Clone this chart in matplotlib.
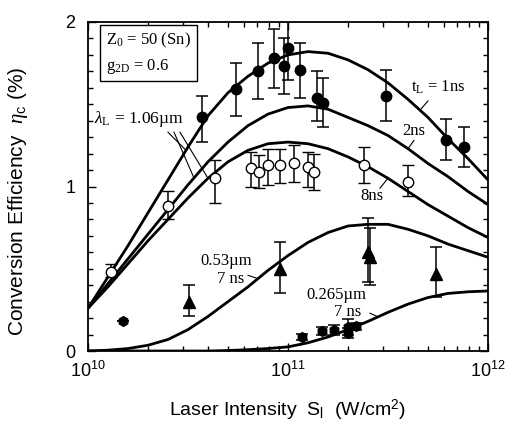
import numpy as np
import matplotlib
matplotlib.use("Agg")
import matplotlib.pyplot as plt
from matplotlib.ticker import MultipleLocator, LogLocator, FixedLocator, NullFormatter

plt.rcParams["font.family"] = ["Liberation Sans", "DejaVu Sans"]
plt.rcParams["mathtext.fontset"] = "custom"
plt.rcParams["mathtext.rm"] = "Liberation Serif"
plt.rcParams["mathtext.it"] = "Liberation Serif:italic"
plt.rcParams["mathtext.sf"] = "Liberation Sans"

# ---- model curves: exponent of laser intensity (W/cm^2) vs. efficiency (%) ----
log_s = [10.0, 10.1, 10.2, 10.3, 10.4, 10.5, 10.6, 10.7, 10.8, 10.9, 11.0,
         11.1, 11.2, 11.3, 11.4, 11.5, 11.6, 11.7, 11.8, 11.9, 12.0]
eta_1ns = [0.26, 0.45, 0.64, 0.84, 1.04, 1.24, 1.43, 1.57, 1.67, 1.75, 1.80,
           1.82, 1.81, 1.77, 1.71, 1.63, 1.53, 1.42, 1.29, 1.17, 1.04]
eta_2ns = [0.26, 0.41, 0.56, 0.71, 0.86, 1.01, 1.15, 1.27, 1.37, 1.44, 1.48,
           1.49, 1.47, 1.42, 1.37, 1.31, 1.23, 1.14, 1.06, 0.97, 0.89]
eta_8ns = [0.26, 0.39, 0.53, 0.67, 0.80, 0.93, 1.05, 1.15, 1.22, 1.26, 1.27,
           1.26, 1.23, 1.18, 1.12, 1.05, 0.97, 0.89, 0.82, 0.75, 0.69]
eta_053 = [0.0, 0.005, 0.015, 0.035, 0.07, 0.13, 0.21, 0.30, 0.39, 0.49, 0.58,
           0.66, 0.72, 0.76, 0.77, 0.77, 0.74, 0.70, 0.65, 0.61, 0.57]
eta_0265 = [0.0, 0.0, 0.0, 0.0, 0.0, 0.0, 0.0, 0.003, 0.008, 0.015, 0.025,
            0.05, 0.085, 0.13, 0.18, 0.235, 0.285, 0.325, 0.35, 0.36, 0.365]

# ---- measurements ----
# 1.06 um, 1 ns (filled circles)
s_1ns = [3.7e10, 5.5e10, 7.1e10, 8.5e10, 9.5e10, 1.0e11, 1.15e11, 1.4e11,
         1.5e11, 3.1e11, 6.2e11, 7.6e11]
e_1ns = [1.42, 1.59, 1.70, 1.78, 1.73, 1.84, 1.71, 1.54, 1.51, 1.55, 1.28, 1.24]
e_1ns_hi = [1.55, 1.75, 1.87, 1.96, 1.90, 2.02, 1.87, 1.70, 1.66, 1.71, 1.41, 1.36]
e_1ns_lo = [1.27, 1.43, 1.53, 1.60, 1.56, 1.65, 1.54, 1.40, 1.36, 1.40, 1.16, 1.12]

# 1.06 um, long pulse (open circles)
s_open = [1.3e10, 2.5e10, 4.3e10, 6.5e10, 7.2e10, 7.9e10, 9.1e10, 1.07e11,
          1.26e11, 1.35e11, 2.4e11, 4.0e11]
e_open = [0.48, 0.88, 1.05, 1.11, 1.09, 1.13, 1.13, 1.14, 1.12, 1.09, 1.13, 1.03]
e_open_hi = [0.53, 0.97, 1.16, 1.21, 1.19, 1.23, 1.23, 1.25, 1.21, 1.20, 1.24, 1.13]
e_open_lo = [0.45, 0.80, 0.90, 1.00, 0.99, 1.01, 1.02, 1.03, 1.00, 0.98, 1.02, 0.94]

# 0.53 um, 7 ns (filled triangles)
s_053 = [3.2e10, 9.1e10, 2.5e11, 2.57e11, 5.5e11]
e_053 = [0.30, 0.50, 0.60, 0.57, 0.47]
e_053_hi = [0.40, 0.66, 0.81, 0.75, 0.63]
e_053_lo = [0.21, 0.35, 0.42, 0.40, 0.33]

# 0.265 um, 7 ns (filled hexagons)
s_0265 = [1.5e10, 1.17e11, 1.48e11, 1.7e11, 2.0e11, 2.0e11, 2.2e11]
e_0265 = [0.18, 0.085, 0.12, 0.13, 0.145, 0.11, 0.15]
e_0265_err = [0.0, 0.02, 0.025, 0.03, 0.05, 0.03, 0.02]

fig = plt.figure(figsize=(5.08, 4.23), dpi=100)
ax = fig.add_axes([0.1732, 0.1702, 0.7874, 0.7778])
ax.set_xscale("log")
ax.set_xlim(1e10, 1e12)
ax.set_ylim(0, 2)

xs = [10 ** v for v in log_s]
for curve in (eta_1ns, eta_2ns, eta_8ns, eta_053, eta_0265):
    ax.plot(xs, curve, color="black", lw=2.0, solid_capstyle="butt", zorder=2)

def bars(y, lo, hi):
    return [np.array(y) - np.array(lo), np.array(hi) - np.array(y)]

eb = dict(ecolor="black", elinewidth=1.1, capsize=4.5, capthick=1.1, ls="none", zorder=3)
ax.errorbar(s_1ns, e_1ns, yerr=bars(e_1ns, e_1ns_lo, e_1ns_hi),
            fmt="o", mfc="black", mec="black", ms=7.5, **eb)
ax.errorbar(s_open, e_open, yerr=bars(e_open, e_open_lo, e_open_hi),
            fmt="o", mfc="white", mec="black", mew=1.0, ms=7.5, **eb)
ax.errorbar(s_053, e_053, yerr=bars(e_053, e_053_lo, e_053_hi),
            fmt="^", mfc="black", mec="black", ms=8, **eb)
ax.errorbar(s_0265, e_0265, yerr=e_0265_err,
            fmt="h", mfc="black", mec="black", ms=7, **eb)

# ---- axes styling ----
for sp in ax.spines.values():
    sp.set_linewidth(1.3)
ax.yaxis.set_major_locator(FixedLocator([0, 1, 2]))
ax.yaxis.set_minor_locator(MultipleLocator(0.1))
ax.set_yticklabels(["0", "1", "2"])
ax.xaxis.set_major_locator(FixedLocator([1e10, 1e11, 1e12]))
ax.xaxis.set_minor_locator(LogLocator(base=10, subs=range(2, 10)))
ax.xaxis.set_minor_formatter(NullFormatter())
ax.set_xticklabels([r"$\mathsf{10^{10}}$", r"$\mathsf{10^{11}}$", r"$\mathsf{10^{12}}$"])
ax.tick_params(which="both", direction="in", top=True, right=True, width=1.0,
               labelsize=13)
ax.tick_params(which="major", length=6)
ax.tick_params(which="minor", length=3.5)
ax.tick_params(axis="y", pad=9)
ax.tick_params(axis="x", pad=7)

ax.set_xlabel(r"Laser Intensity  $\mathsf{S_l}$  (W/cm$^\mathsf{2}$)", fontsize=14, labelpad=12)
ax.set_ylabel(r"Conversion Efficiency  $\eta_\mathsf{c}$ (%)", fontsize=15)
ax.yaxis.set_label_coords(-0.145, 0.456)

# ---- annotations ----
serif = dict(family="Liberation Serif", fontsize=12, color="black")
ax.text(0.045, 0.905, r"$\mathrm{Z_0}$ = 50 (Sn)" + "\n" + r"$\mathrm{g_{2D}}$ = 0.6",
        transform=ax.transAxes, va="center", ha="left", linespacing=1.5,
        bbox=dict(boxstyle="square,pad=0.35", fc="white", ec="black", lw=1.0), **serif)

ax.text(10 ** 10.03, 1.41, r"$\lambda_\mathrm{L}$ = 1.06µm", ha="left", va="center",
        family="Liberation Serif", fontsize=12.5)
for (x0, x1, curve) in ((10.40, 10.49, eta_1ns), (10.43, 10.53, eta_2ns), (10.46, 10.60, eta_8ns)):
    y1 = np.interp(x1, log_s, curve)
    ax.plot([10 ** x0, 10 ** x1], [1.33, y1], color="black", lw=0.8, zorder=1)

ax.text(10 ** 11.75, 1.60, r"$\mathrm{t_L}$ = 1ns", ha="center", va="center", **serif)
ax.plot([10 ** 11.70, 10 ** 11.66], [1.52, np.interp(11.66, log_s, eta_1ns)], color="black", lw=0.8)
ax.text(10 ** 11.63, 1.34, "2ns", ha="center", va="center", **serif)
ax.plot([10 ** 11.63, 10 ** 11.60], [1.28, np.interp(11.60, log_s, eta_2ns)], color="black", lw=0.8)
ax.text(10 ** 11.42, 0.94, "8ns", ha="center", va="center", **serif)
ax.plot([10 ** 11.46, 10 ** 11.50], [0.99, np.interp(11.50, log_s, eta_8ns)], color="black", lw=0.8)

ax.text(10 ** 10.82, 0.55, "0.53µm", ha="right", va="center", **serif)
ax.text(10 ** 10.78, 0.44, "7 ns", ha="right", va="center", **serif)
ax.plot([10 ** 10.80, 10 ** 10.85], [0.46, np.interp(10.85, log_s, eta_053)], color="black", lw=0.8)

ax.text(10 ** 11.24, 0.34, "0.265µm", ha="center", va="center", **serif)
ax.text(10 ** 11.30, 0.235, "7 ns", ha="center", va="center", **serif)
ax.plot([10 ** 11.41, 10 ** 11.45], [0.23, np.interp(11.45, log_s, eta_0265)], color="black", lw=0.8)

fig.savefig("out.png", dpi=100)
